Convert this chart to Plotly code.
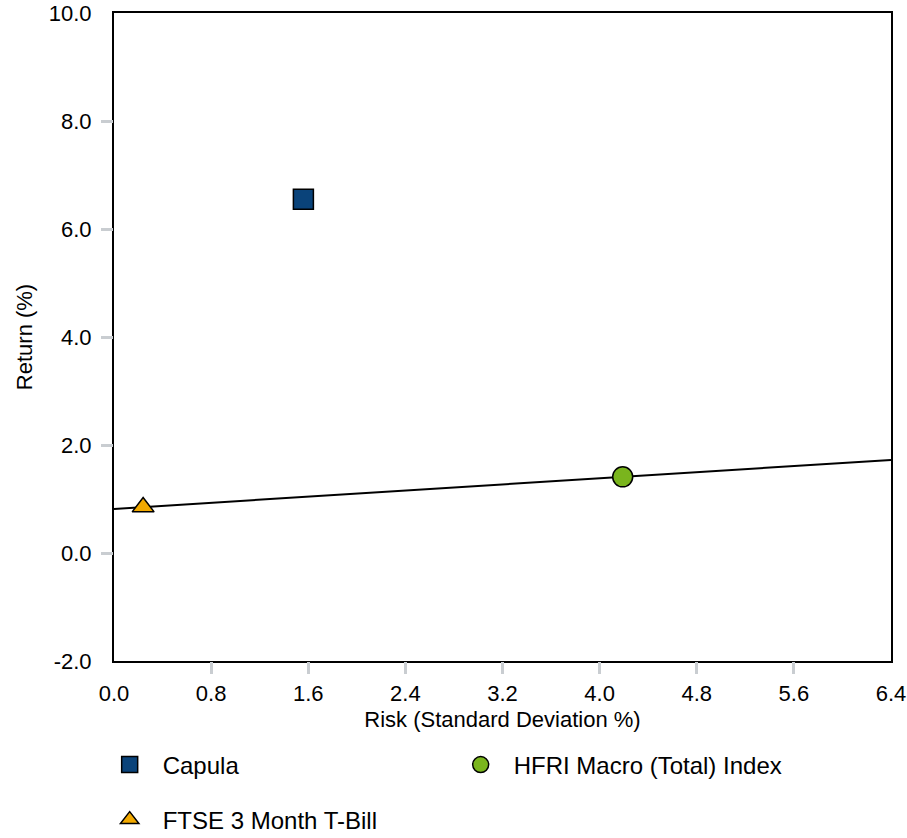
import plotly.graph_objects as go

# ---- data ----
names = ["Capula", "HFRI Macro (Total) Index", "FTSE 3 Month T-Bill"]
risk = [1.56, 4.19, 0.24]
ret = [6.55, 1.41, 0.85]
colors = ["#0a437a", "#7ab51d", "#f2a900"]
symbols = ["square", "circle", "triangle-up"]
sizes = [20, 20, 19]

x_ticks = [0.0, 0.8, 1.6, 2.4, 3.2, 4.0, 4.8, 5.6, 6.4]
y_ticks = [-2.0, 0.0, 2.0, 4.0, 6.0, 8.0, 10.0]
x_range = [0.0, 6.4]
y_range = [-2.0, 10.0]

FONT = "Liberation Sans, Arial, sans-serif"

fig = go.Figure()

# capital market line through T-Bill and benchmark
tb_x, tb_y = risk[2], ret[2]
bm_x, bm_y = risk[1], ret[1]
slope = (bm_y - tb_y) / (bm_x - tb_x)
line_x = x_range
line_y = [tb_y + slope * (xv - tb_x) for xv in line_x]
fig.add_trace(go.Scatter(x=line_x, y=line_y, mode="lines",
                         line=dict(color="black", width=2),
                         showlegend=False, hoverinfo="skip"))

# invisible trace so the overlay (tick-only) axes get drawn
fig.add_trace(go.Scatter(x=[risk[0]], y=[ret[0]], xaxis="x2", yaxis="y2",
                         mode="markers", marker=dict(opacity=0),
                         showlegend=False, hoverinfo="skip"))

legends = ["legend", "legend", "legend2"]
for n, xv, yv, c, s, sz, lg in zip(names, risk, ret, colors, symbols, sizes, legends):
    fig.add_trace(go.Scatter(x=[xv], y=[yv], mode="markers", name=n,
                             marker=dict(color=c, symbol=s, size=sz,
                                         line=dict(color="black", width=1.5)),
                             legend=lg))

fig.update_layout(
    width=907, height=838,
    margin=dict(l=114, r=16, t=13, b=177, autoexpand=False),
    paper_bgcolor="white", plot_bgcolor="white",
    font=dict(family=FONT, size=22, color="black"),
    xaxis=dict(range=x_range, tickvals=x_ticks, ticktext=[f"{v:.1f}" for v in x_ticks],
               showgrid=False, zeroline=False, showline=True, linecolor="black",
               linewidth=2, mirror=True, ticks="outside", ticklen=12,
               tickcolor="rgba(0,0,0,0)", automargin=False,
               title=dict(text="Risk (Standard Deviation %)", standoff=6,
                          font=dict(size=22))),
    yaxis=dict(range=y_range, tickvals=y_ticks, ticktext=[f"{v:.1f}" for v in y_ticks],
               showgrid=False, zeroline=False, showline=True, linecolor="black",
               linewidth=2, mirror=True, ticks="outside", ticklen=16,
               tickcolor="rgba(0,0,0,0)", automargin=False,
               title=dict(text="Return (%)", standoff=10, font=dict(size=22))),
    xaxis2=dict(range=x_range, overlaying="x", anchor="y", side="bottom",
                tickvals=x_ticks[1:-1], showticklabels=False, ticks="outside",
                ticklen=12, tickwidth=3, tickcolor="#c9cdd1", automargin=False,
                showgrid=False, zeroline=False, showline=False),
    yaxis2=dict(range=y_range, overlaying="y", anchor="x", side="left",
                tickvals=y_ticks[1:-1], showticklabels=False, ticks="outside",
                ticklen=12, tickwidth=3, tickcolor="#c9cdd1", automargin=False,
                showgrid=False, zeroline=False, showline=False),
    legend=dict(orientation="h", x=-0.0223, xanchor="left", y=-0.1605, yanchor="middle",
                entrywidth=280, itemwidth=56, font=dict(size=24), itemsizing="trace",
                bgcolor="rgba(0,0,0,0)"),
    legend2=dict(orientation="h", x=-0.0223, xanchor="left", y=-0.2454, yanchor="middle",
                 itemwidth=56, font=dict(size=24), itemsizing="trace",
                 bgcolor="rgba(0,0,0,0)"),
    showlegend=True,
)

fig.write_html("out.html", config={"displayModeBar": False},
               post_script="document.body.style.margin='0';document.body.style.overflow='hidden';")
